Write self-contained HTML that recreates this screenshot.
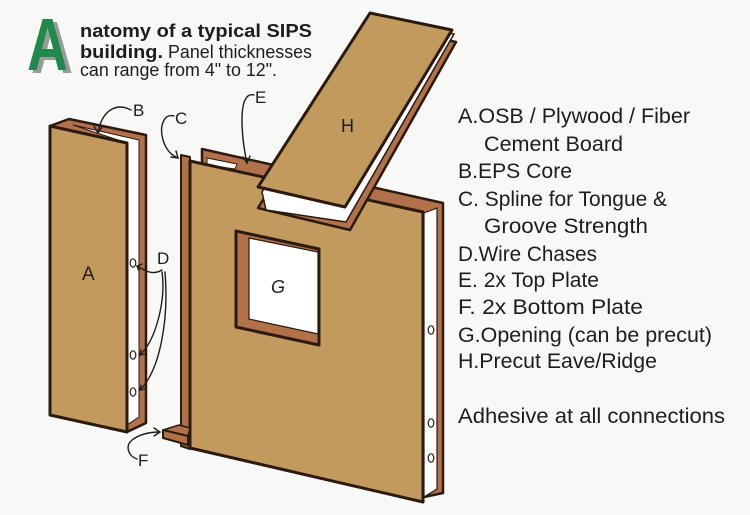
<!DOCTYPE html>
<html><head><meta charset="utf-8"><style>
html,body{margin:0;padding:0;background:#f8f8f6;}
svg{display:block;}
text{font-family:"Liberation Sans",sans-serif;fill:#1e1c1c;}
</style></head><body>
<svg width="750" height="515" viewBox="0 0 750 515" xmlns="http://www.w3.org/2000/svg">
<rect width="750" height="515" fill="#f8f8f6"/>

<!-- Title -->
<text x="31" y="73" font-size="74" font-weight="bold" textLength="42" lengthAdjust="spacingAndGlyphs" style="fill:#9a9a9a">A</text>
<text x="27" y="70" font-size="74" font-weight="bold" textLength="41" lengthAdjust="spacingAndGlyphs" style="fill:#1f8a4b">A</text>
<text x="80" y="37" font-size="18" font-weight="bold" textLength="232" lengthAdjust="spacingAndGlyphs">natomy of a typical SIPS</text>
<text x="80" y="58" font-size="18" font-weight="bold" textLength="83" lengthAdjust="spacingAndGlyphs">building.</text>
<text x="168" y="58" font-size="18" textLength="144" lengthAdjust="spacingAndGlyphs">Panel thicknesses</text>
<text x="80" y="76" font-size="18" textLength="197" lengthAdjust="spacingAndGlyphs">can range from 4" to 12".</text>

<!-- Left panel A -->
<polygon points="69,119 146,135 146,423 127,432 50,126" fill="#b3714a" stroke="#2a1a10" stroke-width="2.5" stroke-linejoin="round"/>
<polygon points="73,125 139,140 139,417 127,425 127,143" fill="#ffffff" stroke="#2a1a10" stroke-width="1"/>
<polygon points="50,126 127,143 127,432 50,415" fill="#c39a5e" stroke="#2a1a10" stroke-width="3" stroke-linejoin="round"/>
<ellipse cx="133" cy="263" rx="2.8" ry="4.2" fill="none" stroke="#2a1a10" stroke-width="1.2"/>
<ellipse cx="133" cy="355" rx="2.8" ry="4.2" fill="none" stroke="#2a1a10" stroke-width="1.2"/>
<ellipse cx="133" cy="392" rx="2.8" ry="4.2" fill="none" stroke="#2a1a10" stroke-width="1.2"/>
<text x="82" y="280" font-size="19">A</text>

<!-- Main panel -->
<polygon points="202,149 443,203 443,493 424,497 202,440" fill="#b3714a" stroke="#2a1a10" stroke-width="2.5" stroke-linejoin="round"/>
<polygon points="207,158 237,164 235,169 207,165" fill="#ffffff" stroke="#2a1a10" stroke-width="1"/>
<polygon points="424,213 437,208 437,489 424,497" fill="#ffffff" stroke="#2a1a10" stroke-width="1.2"/>
<polygon points="181,155 190,157 190,449 181,446" fill="#b3714a" stroke="#2a1a10" stroke-width="2" stroke-linejoin="round"/>
<polygon points="190,161 423,212 423,502 190,448" fill="#c39a5e" stroke="#2a1a10" stroke-width="3" stroke-linejoin="round"/>
<ellipse cx="431" cy="330" rx="2.8" ry="4.2" fill="none" stroke="#2a1a10" stroke-width="1.2"/>
<ellipse cx="431" cy="423" rx="2.8" ry="4.2" fill="none" stroke="#2a1a10" stroke-width="1.2"/>
<ellipse cx="431" cy="458" rx="2.8" ry="4.2" fill="none" stroke="#2a1a10" stroke-width="1.2"/>

<!-- Bottom plate F -->
<polygon points="163,430 179,425 190,428 188,436" fill="#b3714a" stroke="#2a1a10" stroke-width="1.5" stroke-linejoin="round"/>
<polygon points="163,430 188,436 188,445 163,438" fill="#b3714a" stroke="#2a1a10" stroke-width="2" stroke-linejoin="round"/>

<!-- Window G -->
<polygon points="236,231 319,249 319,345 236,327" fill="#b3714a" stroke="#2a1a10" stroke-width="3" stroke-linejoin="round"/>
<polygon points="249,238 318,252 318,334 249,319" fill="#ffffff" stroke="#2a1a10" stroke-width="1.2"/>
<text x="271" y="293" font-size="18" font-style="italic">G</text>

<!-- H panel -->
<polygon points="371,24 456,42 350,230 258,208" fill="#b3714a" stroke="#2a1a10" stroke-width="2.5" stroke-linejoin="round"/>
<polygon points="372,18 454,34 346,222 266,210 262,192" fill="#ffffff" stroke="#2a1a10" stroke-width="1.5" stroke-linejoin="round"/>
<polygon points="370,13 452,30 345,207 258,187" fill="#c39a5e" stroke="#2a1a10" stroke-width="3" stroke-linejoin="round"/>
<text x="341" y="132" font-size="18">H</text>

<!-- Callouts -->
<g fill="none" stroke="#1e1c1c" stroke-width="1.4" stroke-linecap="round">
<path d="M131,110 C118,103 103,108 98,132"/>
<path d="M94,126 L98,133 L102,127"/>
<path d="M174,116 C164,113 159,126 163,140 C166,150 171,155 178,158"/>
<path d="M171,157 L178,158 L176,151"/>
<path d="M254,95 C246,93 242,102 242,120 C242,140 245,154 247,163"/>
<path d="M243,157 L247,163 L250,156"/>
<path d="M162,270 C152,276 144,270 137,266"/>
<path d="M139,271 L137,266 L142,264"/>
<path d="M162,272 C166,300 156,340 140,355"/>
<path d="M141,350 L140,355 L145,354"/>
<path d="M165,272 C169,320 160,370 140,390"/>
<path d="M141,385 L140,390 L145,389"/>
<path d="M137,459 C128,456 125,446 132,440 C140,434 150,432 160,432"/>
<path d="M154,428 L160,432 L154,436"/>
</g>
<text x="133" y="116" font-size="17">B</text>
<text x="175" y="124" font-size="17">C</text>
<text x="255" y="103" font-size="17">E</text>
<text x="157" y="264" font-size="17">D</text>
<text x="138" y="466" font-size="17">F</text>

<!-- Legend -->
<g font-size="21">
<text x="458" y="123" textLength="232" lengthAdjust="spacingAndGlyphs">A.OSB / Plywood / Fiber</text>
<text x="484" y="151" textLength="139" lengthAdjust="spacingAndGlyphs">Cement Board</text>
<text x="458" y="178" textLength="114" lengthAdjust="spacingAndGlyphs">B.EPS Core</text>
<text x="458" y="206" textLength="209" lengthAdjust="spacingAndGlyphs">C. Spline for Tongue &amp;</text>
<text x="484" y="233" textLength="164" lengthAdjust="spacingAndGlyphs">Groove Strength</text>
<text x="458" y="261" textLength="139" lengthAdjust="spacingAndGlyphs">D.Wire Chases</text>
<text x="458" y="287" textLength="141" lengthAdjust="spacingAndGlyphs">E. 2x Top Plate</text>
<text x="458" y="314" textLength="185" lengthAdjust="spacingAndGlyphs">F. 2x Bottom Plate</text>
<text x="458" y="342" textLength="254" lengthAdjust="spacingAndGlyphs">G.Opening (can be precut)</text>
<text x="458" y="368" textLength="199" lengthAdjust="spacingAndGlyphs">H.Precut Eave/Ridge</text>
<text x="458" y="423" textLength="267" lengthAdjust="spacingAndGlyphs">Adhesive at all connections</text>
</g>
</svg>
</body></html>
